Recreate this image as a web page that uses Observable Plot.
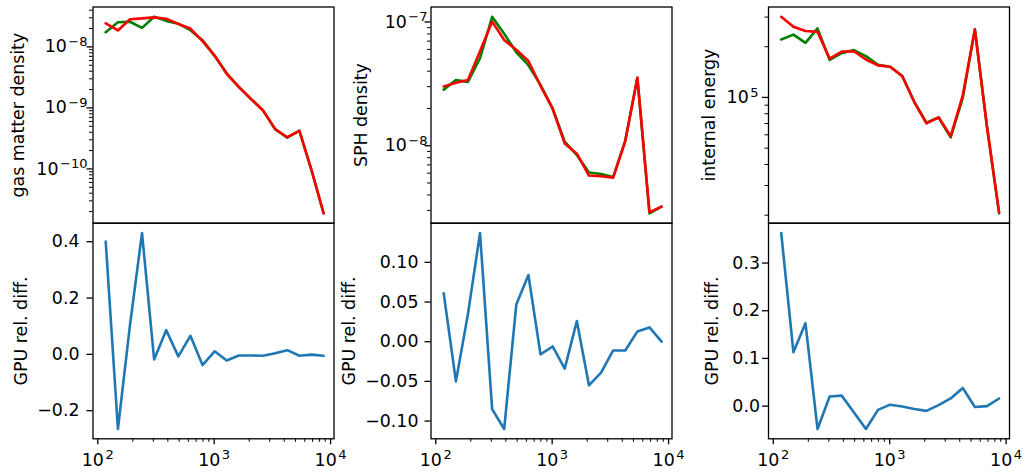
<!DOCTYPE html>
<html>
<head>
<meta charset="utf-8">
<script src="https://cdn.jsdelivr.net/npm/d3@7"></script>
<script src="https://cdn.jsdelivr.net/npm/@observablehq/plot@0.6"></script>
<style>
  html, body { margin: 0; padding: 0; background: #fff; }
  #figure { position: relative; width: 1027px; height: 472px; overflow: hidden; background: #fff; }
  #figure svg { position: absolute; overflow: visible; }
</style>
</head>
<body>
<div id="figure"></div>
<script>
// Radial bin centres shared by every panel
const radius = [117, 149, 189, 240, 305, 387, 492, 625, 794, 1009, 1282, 1629, 2070, 2630, 3342, 4246, 5395, 6855, 8710];

// Gas matter density profile: CPU reference and GPU run
const gasDensityCPU = [1.74e-8, 2.54e-8, 2.58e-8, 2.05e-8, 3.11e-8, 2.67e-8, 2.40e-8, 1.88e-8, 1.29e-8, 7.13e-9, 3.69e-9, 2.21e-9, 1.41e-9, 9.1e-10, 4.47e-10, 3.26e-10, 4.24e-10, 9.6e-11, 1.88e-11];
const gasDensityGPU = [2.44e-8, 1.86e-8, 2.84e-8, 2.93e-8, 3.05e-8, 2.90e-8, 2.38e-8, 2.00e-8, 1.24e-8, 7.21e-9, 3.61e-9, 2.20e-9, 1.40e-9, 9.06e-10, 4.49e-10, 3.31e-10, 4.22e-10, 9.6e-11, 1.87e-11];
const gasRelDiff = [0.401, -0.265, 0.103, 0.431, -0.018, 0.086, -0.007, 0.066, -0.038, 0.011, -0.022, -0.004, -0.004, -0.005, 0.004, 0.015, -0.005, -0.001, -0.005];

// SPH density profile
const sphDensityCPU = [2.84e-8, 3.39e-8, 3.28e-8, 5.09e-8, 1.10e-7, 8.04e-8, 5.69e-8, 4.47e-8, 3.10e-8, 2.00e-8, 1.08e-8, 8.41e-9, 6.07e-9, 5.90e-9, 5.58e-9, 1.10e-8, 3.52e-8, 2.84e-9, 3.22e-9];
const sphDensityGPU = [3.01e-8, 3.22e-8, 3.40e-8, 5.79e-8, 1.007e-7, 7.14e-8, 5.96e-8, 4.84e-8, 3.05e-8, 1.99e-8, 1.04e-8, 8.63e-9, 5.74e-9, 5.67e-9, 5.52e-9, 1.09e-8, 3.56e-8, 2.90e-9, 3.22e-9];
const sphRelDiff = [0.061, -0.050, 0.035, 0.137, -0.085, -0.110, 0.047, 0.084, -0.016, -0.006, -0.034, 0.026, -0.055, -0.039, -0.011, -0.011, 0.013, 0.018, 0.000];

// Internal energy profile
const energyCPU = [2.21e5, 2.36e5, 2.11e5, 2.57e5, 1.67e5, 1.83e5, 1.91e5, 1.76e5, 1.56e5, 1.52e5, 1.34e5, 9.42e4, 7.08e4, 7.60e4, 5.79e4, 9.95e4, 2.54e5, 6.70e4, 2.05e4];
const energyGPU = [3.01e5, 2.63e5, 2.48e5, 2.45e5, 1.70e5, 1.87e5, 1.88e5, 1.68e5, 1.55e5, 1.52e5, 1.34e5, 9.36e4, 7.01e4, 7.62e4, 5.88e4, 1.03e5, 2.53e5, 6.70e4, 2.08e4];
const energyRelDiff = [0.363, 0.113, 0.174, -0.048, 0.020, 0.022, -0.013, -0.048, -0.008, 0.003, -0.001, -0.006, -0.010, 0.002, 0.016, 0.038, -0.002, 0.000, 0.016];

// Tick values
const radiusTicks = [100, 1000, 10000];
const gasTicks = [1e-10, 1e-9, 1e-8];
const sphTicks = [1e-8, 1e-7];
const energyTicks = [1e5];
const gasDiffTicks = [-0.2, 0.0, 0.2, 0.4];
const sphDiffTicks = [-0.10, -0.05, 0.00, 0.05, 0.10];
const energyDiffTicks = [0.0, 0.1, 0.2, 0.3];

// ---- layout helpers ----
const FIGURE = document.getElementById("figure");
const FONT = "font-family: 'DejaVu Sans', sans-serif; font-size: 17.4px; background: transparent; overflow: visible;";
const COLS = [
  {svgLeft: 0, svgWidth: 340, left: 92.5, right: 333.5},
  {svgLeft: 340, svgWidth: 340, left: 430.5, right: 671.5},
  {svgLeft: 680, svgWidth: 347, left: 768, right: 1009}
];
const ROWS = [
  {svgTop: 0, svgHeight: 223, top: 6.5, bottom: 222.7},
  {svgTop: 222, svgHeight: 250, top: 222.7, bottom: 438.3}
];
const X_DOMAIN = [91, 10700];

function geometry(c, r) {
  const col = COLS[c], row = ROWS[r];
  return {
    width: col.svgWidth,
    height: row.svgHeight,
    marginLeft: col.left - col.svgLeft,
    marginRight: col.svgLeft + col.svgWidth - col.right,
    marginTop: row.top - row.svgTop,
    marginBottom: row.svgTop + row.svgHeight - row.bottom
  };
}

// matplotlib-style 5% autoscale margins
function paddedDomain(values, log) {
  const f = log ? Math.log10 : (v) => v;
  const [a, b] = d3.extent(values, f);
  const m = (b - a) * 0.05;
  return log ? [10 ** (a - m), 10 ** (b + m)] : [a - m, b + m];
}

function minorLogTicks([lo, hi]) {
  const out = [];
  for (let e = Math.floor(Math.log10(lo)) - 1; e <= Math.ceil(Math.log10(hi)); e++) {
    for (let m = 2; m <= 9; m++) {
      const v = m * Math.pow(10, e);
      if (v >= lo && v <= hi) out.push(v);
    }
  }
  return out;
}

function powerLabel(v) {
  const e = Math.round(Math.log10(v));
  return "10^" + (e < 0 ? "\u2212" + (-e) : String(e));
}

// turn "10^n" tick text into a base with a raised, smaller exponent
function raiseExponents(svg) {
  for (const t of svg.querySelectorAll("text")) {
    const s = t.textContent;
    const k = s.indexOf("^");
    if (k < 0) continue;
    t.textContent = s.slice(0, k);
    const ts = document.createElementNS("http://www.w3.org/2000/svg", "tspan");
    ts.setAttribute("font-size", "75%");
    ts.setAttribute("dy", "-6.4");
    ts.setAttribute("dx", "1.5");
    ts.textContent = s.slice(k + 1);
    t.appendChild(ts);
  }
}

function place(svg, c, r) {
  svg.style.left = COLS[c].svgLeft + "px";
  svg.style.top = ROWS[r].svgTop + "px";
  raiseExponents(svg);
  FIGURE.appendChild(svg);
}

function profilePanel(c, {cpu, gpu, ticks, label, labelOffset, tickPadding}) {
  const yDomain = paddedDomain([...cpu, ...gpu], true);
  const svg = Plot.plot({
    ...geometry(c, 0),
    style: FONT,
    x: {type: "log", domain: X_DOMAIN, axis: null},
    y: {type: "log", domain: yDomain},
    marks: [
      Plot.axisY(minorLogTicks(yDomain), {tickSize: 3.5, strokeWidth: 1, tickFormat: () => "", label: null}),
      Plot.axisY(ticks, {
        tickSize: 6, strokeWidth: 1.3, tickPadding, tickFormat: powerLabel,
        label, labelAnchor: "center", labelOffset, labelArrow: "none"
      }),
      Plot.lineY(cpu, {x: radius, stroke: "#008000", strokeWidth: 2.6}),
      Plot.lineY(gpu, {x: radius, stroke: "#ff0000", strokeWidth: 2.6}),
      Plot.frame({stroke: "black", strokeWidth: 1.3})
    ]
  });
  place(svg, c, 0);
}

function diffPanel(c, {diff, ticks, format, labelOffset, tickPadding}) {
  const svg = Plot.plot({
    ...geometry(c, 1),
    style: FONT,
    x: {type: "log", domain: X_DOMAIN},
    y: {domain: paddedDomain(diff, false)},
    marks: [
      Plot.axisX(minorLogTicks(X_DOMAIN), {tickSize: 3.5, strokeWidth: 1, tickFormat: () => "", label: null}),
      Plot.axisX(radiusTicks, {tickSize: 6, strokeWidth: 1.3, tickPadding: 8.7, tickFormat: powerLabel, label: null}),
      Plot.axisY(ticks, {
        tickSize: 6, strokeWidth: 1.3, tickPadding, tickFormat: d3.format(format),
        label: "GPU rel. diff.", labelAnchor: "center", labelOffset, labelArrow: "none"
      }),
      Plot.lineY(diff, {x: radius, stroke: "#1f77b4", strokeWidth: 2.6}),
      Plot.frame({stroke: "black", strokeWidth: 1.3})
    ]
  });
  place(svg, c, 1);
}

profilePanel(0, {cpu: gasDensityCPU, gpu: gasDensityGPU, ticks: gasTicks, label: "gas matter density", labelOffset: 81.5, tickPadding: -0.5});
profilePanel(1, {cpu: sphDensityCPU, gpu: sphDensityGPU, ticks: sphTicks, label: "SPH density", labelOffset: 76, tickPadding: -2.5});
profilePanel(2, {cpu: energyCPU, gpu: energyGPU, ticks: energyTicks, label: "internal energy", labelOffset: 66, tickPadding: 4});

diffPanel(0, {diff: gasRelDiff, ticks: gasDiffTicks, format: ".1f", labelOffset: 78, tickPadding: 7.5});
diffPanel(1, {diff: sphRelDiff, ticks: sphDiffTicks, format: ".2f", labelOffset: 88.5, tickPadding: 6.5});
diffPanel(2, {diff: energyRelDiff, ticks: energyDiffTicks, format: ".1f", labelOffset: 63, tickPadding: 2.5});
</script>
</body>
</html>
